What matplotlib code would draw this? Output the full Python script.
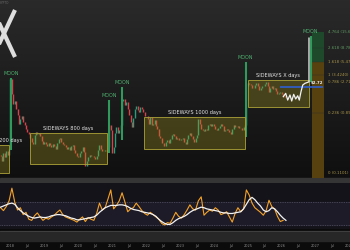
import numpy as np
import matplotlib
matplotlib.use("Agg")
import matplotlib.pyplot as plt
from matplotlib.patches import Rectangle

# ---------------- data ----------------
start_year = 2017.708          # first half-month candle (mid Sep 2017)
first_open = 0.21
closes = [0.20, 0.17, 0.22, 0.19, 0.24, 0.21, 0.26, 3.00, 1.75, 1.25,
          1.40, 1.05, 0.85, 0.62, 0.72, 0.80, 0.66, 0.60, 0.52, 0.47,
          0.44, 0.38, 0.33, 0.30, 0.42, 0.46, 0.43, 0.45, 0.40, 0.34,
          0.30, 0.33, 0.30, 0.28, 0.31, 0.29, 0.27, 0.30, 0.28, 0.26,
          0.31, 0.36, 0.38, 0.33, 0.30, 0.29, 0.27, 0.26, 0.27, 0.25,
          0.28, 0.29, 0.25, 0.22, 0.20, 0.19, 0.22, 0.24, 0.27, 0.23,
          0.14, 0.17, 0.19, 0.21, 0.20, 0.20, 0.19, 0.18, 0.20, 0.25,
          0.29, 0.26, 0.24, 0.24, 0.25, 0.24, 0.27, 0.60, 0.50, 0.22,
          0.27, 0.45, 0.55, 0.45, 0.50, 0.60, 1.40, 1.50, 1.20, 1.35,
          1.05, 0.85, 0.65, 0.55, 0.75, 1.05, 1.15, 1.00, 0.95, 1.10,
          1.05, 0.95, 0.82, 0.80, 0.72, 0.62, 0.78, 0.60, 0.62, 0.70,
          0.58, 0.52, 0.40, 0.38, 0.32, 0.31, 0.28, 0.33, 0.35, 0.32,
          0.36, 0.42, 0.44, 0.40, 0.36, 0.38, 0.35, 0.35, 0.36, 0.38,
          0.33, 0.30, 0.36, 0.42, 0.45, 0.40, 0.36, 0.33, 0.38, 0.42,
          0.72, 0.62, 0.52, 0.50, 0.48, 0.52, 0.50, 0.60, 0.62, 0.58,
          0.62, 0.57, 0.52, 0.50, 0.53, 0.58, 0.62, 0.58, 0.48, 0.50,
          0.52, 0.50, 0.47, 0.44, 0.52, 0.60, 0.56, 0.55, 0.58, 0.54,
          0.53, 0.50, 0.55, 0.60, 2.30, 2.60, 2.50, 2.45, 2.20, 2.15,
          2.40, 2.55, 2.30, 2.05, 2.20, 2.35, 2.30, 2.50, 2.65, 2.30,
          1.90, 2.15, 2.35, 2.10, 2.15, 1.95, 1.75, 1.85, 1.90, 1.75,
          1.65, 1.58]

osc_orange = [60, 55, 62, 72, 94, 70, 56, 60, 48, 52,
              40, 38, 46, 51, 44, 38, 42, 40, 44, 47,
              52, 56, 48, 44, 42, 40, 38, 35, 40, 44,
              36, 43, 40, 38, 50, 68, 56, 60, 75, 91,
              58, 64, 72, 86, 70, 53, 58, 60, 68, 62,
              55, 50, 47, 52, 48, 44, 40, 33, 30, 34,
              33, 42, 52, 45, 42, 48, 56, 65, 58, 56,
              72, 79, 47, 52, 56, 54, 60, 56, 48, 50,
              53, 44, 35, 50, 60, 53, 58, 91, 82, 68,
              60, 56, 52, 47, 55, 73, 62, 58, 45, 36, 38]
osc_white = [61, 63, 65, 67, 68, 66, 60, 55, 51, 48,
             45, 43, 42, 43, 44, 43, 43, 44, 46, 47,
             48, 48, 47, 46, 44, 42, 41, 39, 39, 40,
             41, 42, 43, 44, 47, 52, 56, 60, 62, 64,
             64, 64, 65, 65, 64, 62, 59, 57, 56, 55,
             53, 52, 51, 50, 48, 45, 40, 36, 33, 31,
             31, 34, 38, 41, 43, 45, 48, 52, 55, 57,
             59, 61, 60, 58, 57, 56, 55, 54, 52, 51,
             51, 50, 50, 51, 52, 53, 58, 66, 74, 78,
             74, 68, 63, 56, 53, 55, 60, 58, 53, 47, 42, 38]

moon_dates = [2018.015, 2020.906, 2021.289, 2024.938, 2026.85]
moon_lows = [0.25, 0.22, 0.35, 0.39, 2.68]
moon_highs = [3.08, 1.42, 2.25, 5.40, 13.4]

box_labels = ["SIDEWAYS 200 days", "SIDEWAYS 800 days",
              "SIDEWAYS 1000 days", "SIDEWAYS X days"]
box_starts = [2017.25, 2018.575, 2021.94, 2025.007]
box_ends = [2017.956, 2020.847, 2024.92, 2026.80]
box_lows = [0.1115, 0.151, 0.255, 1.11]
box_highs = [0.294, 0.448, 0.785, 2.87]

proj_dates = [2026.047, 2026.118, 2026.177, 2026.245, 2026.295, 2026.354,
              2026.413, 2026.472, 2026.519, 2026.569, 2026.620, 2026.687,
              2026.767, 2026.805, 2026.805]
proj_prices = [1.60, 1.80, 1.42, 1.70, 1.375, 1.74, 1.476, 1.656, 1.42,
               1.905, 2.41, 2.56, 2.65, 2.70, 12.5]

level_price = 2.25
level_start, level_end = 2025.95, 2027.22
level_label = "$2.72"

fib_levels = ["0", "0.236", "0.786", "1", "1.618", "2.618", "4.764"]
fib_prices = [0.1101, 0.8922, 2.7148, 3.4240, 5.4723, 8.7860, 15.6541]
fib_start, fib_end = 2026.89, 2027.24

tick_pos = [2018 + 0.5 * k for k in range(21)]
tick_labels = []
for k in range(21):
    tick_labels.append(str(2018 + k // 2) if k % 2 == 0 else "Jul")

# ---------------- figure ----------------
W, H = 350, 250
fig = plt.figure(figsize=(3.5, 2.5), dpi=100)
fig.patch.set_facecolor("#0c0c0c")

# background (pixel coordinates)
bg = fig.add_axes([0, 0, 1, 1], zorder=0)
bg.set_xlim(0, W)
bg.set_ylim(H, 0)
bg.axis("off")
rows = np.arange(H)
shade = np.where(rows < 178, 0.165 - 0.105 * rows / 178.0, 0.045)
grad = np.repeat(shade[:, None], 2, axis=1)
bg.imshow(np.dstack([grad, grad, grad]), extent=[0, W, H, 0], aspect="auto",
          interpolation="bilinear", zorder=0)
# separator bands
bg.add_patch(Rectangle((0, 178), W, 5, color="#353535", zorder=1))
bg.add_patch(Rectangle((0, 231), W, 10, color="#272727", zorder=1))
bg.plot([0, W], [231, 231], color="#444444", lw=0.6, zorder=2)
# logo
bg.plot([-7, 15], [10, 57], color="#dedede", lw=3.0, solid_capstyle="butt", zorder=2)
bg.plot([15, -7], [10, 57], color="#dedede", lw=3.0, solid_capstyle="butt", zorder=2)
bg.text(9, 3, "CRYPTO", color="#6a6a6a", fontsize=2.2, ha="right", va="center")

x0 = 2018 - 10.5 / 33.9
x1 = 2018 + (W - 10.5) / 33.9

# ---------------- main price panel ----------------
ax = fig.add_axes([0, 1 - 178 / H, 1, 178 / H], zorder=2)
ax.patch.set_alpha(0)
ax.set_yscale("log")
ax.set_xlim(x0, x1)
ax.set_ylim(0.0924, 47.6)
for s in ax.spines.values():
    s.set_visible(False)
ax.set_xticks([])
ax.set_yticks([])
ax.minorticks_off()

times = np.array([start_year + i / 24.0 for i in range(len(closes))])
c = np.array(closes)
o = np.array([first_open] + closes[:-1])
cols = np.where(c >= o, "#26a07a", "#d8424b")
ax.vlines(times, o, c, colors=cols, linewidth=1.0, zorder=3)

# moon bars and labels
ax.vlines(moon_dates, moon_lows, moon_highs, colors="#2f9a5c", linewidth=1.5, zorder=4)
for d, h in zip(moon_dates, moon_highs):
    ax.annotate("MOON", (d, h), xytext=(0, 3.2), textcoords="offset points",
                ha="center", va="center", fontsize=3.5, color="#4fb070", zorder=6,
                annotation_clip=False)

# sideways boxes
for lab, s, e, lo, hi in zip(box_labels, box_starts, box_ends, box_lows, box_highs):
    ax.add_patch(Rectangle((s, lo), e - s, hi - lo, facecolor=(0.62, 0.58, 0.12, 0.33),
                           edgecolor=(0.66, 0.62, 0.22, 0.9), linewidth=0.7, zorder=5))
    ax.annotate(lab, ((s + e) / 2, hi), xytext=(0, 3.0), textcoords="offset points",
                ha="center", va="center", fontsize=3.6, color="#e6e6e6", zorder=6,
                annotation_clip=False)

# fib column
ylo = ax.get_ylim()[0]
ax.add_patch(Rectangle((fib_start, ylo), fib_end - fib_start, fib_prices[4] - ylo,
                       facecolor="#57410f", edgecolor="none", zorder=2))
ax.add_patch(Rectangle((fib_start, fib_prices[4]), fib_end - fib_start,
                       fib_prices[6] - fib_prices[4], facecolor="#1e4a2b",
                       edgecolor="none", zorder=2))
ax.hlines(fib_prices[1:6], fib_start, fib_end, colors="#2c2c2c", linewidth=0.3, zorder=2)
for lv, p in zip(fib_levels, fib_prices):
    colr = "#5f9a62" if float(lv) >= 2 else "#a8944a"
    ax.text(x0 + 328 / 33.9, p, f"{lv} ({p:.4f})", fontsize=2.8, color=colr,
            ha="left", va="center", zorder=6, clip_on=False)

# level line + projection
ax.hlines(level_price, level_start, level_end, colors="#2f5fd0", linewidth=1.2, zorder=6)
ax.plot(proj_dates, proj_prices, color="#f2f2f2", linewidth=0.9, zorder=7)
ax.annotate(level_label, (proj_dates[-2], proj_prices[-2]), xytext=(1.5, -0.8),
            textcoords="offset points", ha="left", va="center", fontsize=2.8,
            color="#f0f0f0", fontweight="bold", zorder=8)

# ---------------- indicator panel ----------------
ai = fig.add_axes([0, 1 - 229 / H, 1, 46 / H], zorder=2)
ai.set_facecolor("#141319")
ai.set_xlim(x0, x1)
ai.set_ylim(23, 103)
for s in ai.spines.values():
    s.set_visible(False)
ai.axhspan(30, 70, color="#1e1b29", zorder=0)
ai.axhline(70, color="#6a6a7c", linestyle=(0, (1, 1.5)), linewidth=0.5)
ai.axhline(30, color="#6a6a7c", linestyle=(0, (1, 1.5)), linewidth=0.5)
tm_o = [start_year + k / 12.0 for k in range(len(osc_orange))]
tm_w = [start_year + k / 12.0 for k in range(len(osc_white))]
ai.plot(tm_o, osc_orange, color="#f5a328", linewidth=0.8, zorder=3)
ai.plot(tm_w, osc_white, color="#f2f2f2", linewidth=0.9, zorder=4)
ai.set_yticks([])
ai.set_xticks(tick_pos)
ai.set_xticklabels(tick_labels)
ai.tick_params(axis="x", length=0, pad=10.6, labelsize=2.5, labelcolor="#8c8c8c")

fig.savefig("out.png", dpi=100, facecolor=fig.get_facecolor())
